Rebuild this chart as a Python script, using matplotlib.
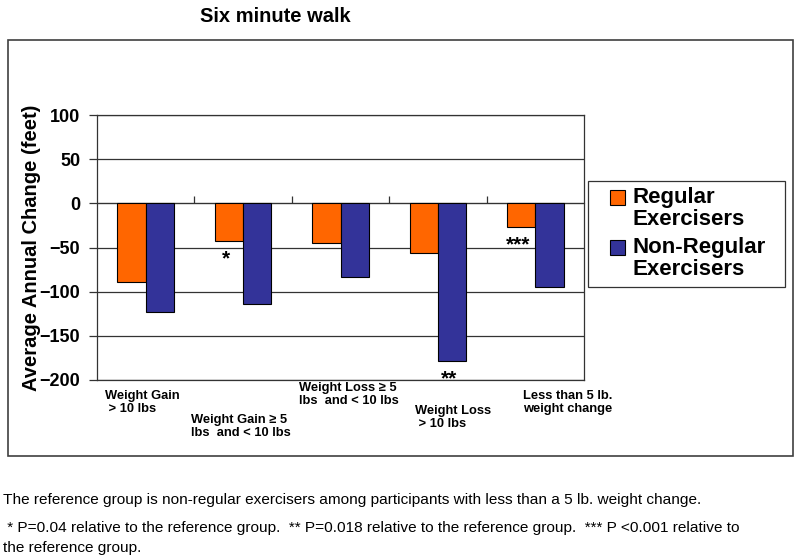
import matplotlib
matplotlib.use('Agg')
import matplotlib.pyplot as plt
import numpy as np
from matplotlib.patches import Rectangle

plt.rcParams['font.family'] = ['Liberation Sans', 'DejaVu Sans']

# data
categories = ['Weight Gain\n > 10 lbs',
              'Weight Gain \u2265 5\nlbs  and < 10 lbs',
              'Weight Loss \u2265 5\nlbs  and < 10 lbs',
              'Weight Loss\n > 10 lbs',
              'Less than 5 lb.\nweight change']
regular = [-89, -43, -45, -56, -27]
non_regular = [-123, -114, -83, -179, -95]
series_names = ['Regular\nExercisers', 'Non-Regular\nExercisers']
# (category index, series, marker text)
stars = [(1, 'regular', '*'), (3, 'non_regular', '**'), (4, 'regular', '***')]

notes = ['The reference group is non-regular exercisers among participants with less than a 5 lb. weight change.',
         ' * P=0.04 relative to the reference group.  ** P=0.018 relative to the reference group.  *** P <0.001 relative to',
         'the reference group.']

W, H = 800, 558
fig = plt.figure(figsize=(W / 100, H / 100), dpi=100)

def px(x, y):
    return x / W, 1 - y / H

# outer chart box
fig.patches.append(Rectangle(px(8, 456), 785 / W, 416 / H, transform=fig.transFigure,
                             fill=False, edgecolor='#404040', linewidth=1.2))

ax = fig.add_axes([97 / W, 1 - 380 / H, 487 / W, 265 / H])
x = np.arange(len(categories))
bw = 0.29
b1 = ax.bar(x - bw / 2, regular, bw, color='#FF6600', edgecolor='black', linewidth=0.8, zorder=3)
b2 = ax.bar(x + bw / 2, non_regular, bw, color='#333399', edgecolor='black', linewidth=0.8, zorder=3)

ax.set_xlim(-0.5, len(categories) - 0.5)
ax.set_ylim(-200, 100)
ax.set_yticks(range(-200, 101, 50))
ax.yaxis.grid(True, color='#333333', linewidth=0.9)
ax.set_axisbelow(True)
ax.set_xticks([])
ax.tick_params(axis='y', direction='out', length=6, width=0.9, color='#333333',
               labelsize=13, pad=6)
for t in ax.get_yticklabels():
    t.set_fontweight('bold')
for s in ax.spines.values():
    s.set_color('#333333')
    s.set_linewidth(0.9)

# category ticks on the zero line
ymin, ymax = ax.get_ylim()
sec = ax.secondary_xaxis((0 - ymin) / (ymax - ymin))
sec.set_xticks(np.arange(len(categories) - 1) + 0.5)
sec.set_xticklabels([])
sec.tick_params(direction='out', length=5, width=0.9, color='#333333')
sec.spines['bottom'].set_visible(False)

ax.set_ylabel('Average Annual Change (feet)', fontsize=14.5, fontweight='bold')
ax.yaxis.set_label_coords(-0.116, 0.5)

# significance markers
for i, series, txt in stars:
    if series == 'regular':
        xv, yv = x[i] - bw / 2, regular[i]
    else:
        xv, yv = x[i] + bw / 2, non_regular[i]
    ax.annotate(txt, (xv, yv), xytext=(-2, -6), textcoords='offset points',
                ha='center', va='top', fontsize=15, fontweight='bold')

# staggered category labels
label_pos = [(105, 390), (191, 414), (299, 382), (415, 405), (523, 390)]
for lab, (lx, ly) in zip(categories, label_pos):
    fig.text(*px(lx, ly), lab, ha='left', va='top', fontsize=9.3, fontweight='bold',
             linespacing=1.15)

fig.text(*px(275, 16), 'Six minute walk', ha='center', va='center', fontsize=14.5,
         fontweight='bold')

# legend box drawn by hand to match the reference layout
fig.patches.append(Rectangle(px(588, 287), 197 / W, 106 / H, transform=fig.transFigure,
                             fill=True, facecolor='white', edgecolor='#333333', linewidth=0.9))
for bars, name, ytop in zip([b1, b2], series_names, [190, 240]):
    fig.patches.append(Rectangle(px(610, ytop + 15), 15 / W, 15 / H, transform=fig.transFigure,
                                 facecolor=bars[0].get_facecolor(), edgecolor='black',
                                 linewidth=0.8))
    fig.text(*px(633, ytop - 3), name, ha='left', va='top', fontsize=16, fontweight='bold',
             linespacing=1.05)

# footnotes, sized so the first line spans the same width as in the reference
note_pos = [(3, 504), (3, 532), (3, 552)]
note_txt = [fig.text(*px(nx, ny), txt, ha='left', va='baseline', fontsize=10)
            for txt, (nx, ny) in zip(notes, note_pos)]
fig.canvas.draw()
w0 = note_txt[0].get_window_extent(fig.canvas.get_renderer()).width
fs = min(max(10 * 702 / w0, 9), 11.5)
for t in note_txt:
    t.set_fontsize(fs)

fig.savefig('out.png', dpi=100)
